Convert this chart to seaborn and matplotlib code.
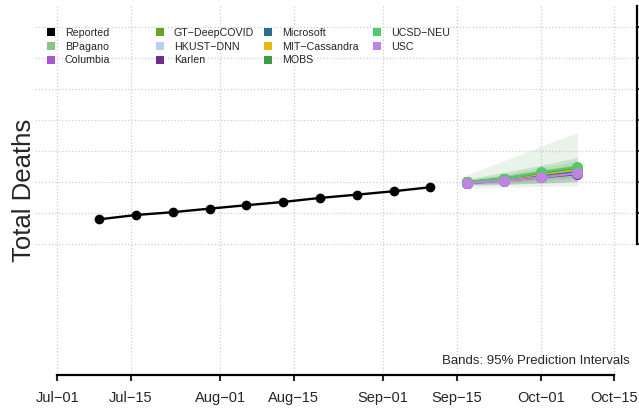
import matplotlib
matplotlib.use("Agg")
import matplotlib.pyplot as plt
import matplotlib.dates as mdates
from matplotlib.lines import Line2D
import numpy as np
import pandas as pd
import seaborn as sns

# ---------------------------------------------------------------------------
# Data
# ---------------------------------------------------------------------------

reported_dates = pd.date_range("2020-07-09", periods=10, freq="7D")
reported_deaths = [9610, 9890, 10070, 10300, 10520, 10730, 10990, 11200, 11420, 11680]

forecast_dates = pd.date_range("2020-09-17", periods=4, freq="7D")

models = ["BPagano", "Columbia", "GT\u2212DeepCOVID", "HKUST\u2212DNN", "Karlen",
          "Microsoft", "MIT\u2212Cassandra", "MOBS", "UCSD\u2212NEU", "USC"]
model_colors = ["#8fbf8a", "#a855d6", "#6aa222", "#b8cff0", "#6a3090",
                "#2a6f8e", "#e8b812", "#3d9a4a", "#55c86a", "#bd85e0"]

point_bpagano = [11990, 12200, 12480, 12760]
point_columbia = [11950, 12150, 12380, 12640]
point_gt = [12000, 12230, 12560, 12880]
point_hkust = [11940, 12120, 12330, 12560]
point_karlen = [11940, 12110, 12310, 12530]
point_microsoft = [11960, 12160, 12400, 12660]
point_mit = [11990, 12210, 12520, 12830]
point_mobs = [12010, 12240, 12600, 12940]
point_ucsd = [12020, 12230, 12650, 12990]
point_usc = [11935, 12100, 12320, 12580]

lower_bpagano = [11630, 11700, 11730, 11760]
upper_bpagano = [12470, 13390, 14310, 15230]
lower_mobs = [11850, 11880, 11950, 12050]
upper_mobs = [12200, 12650, 13100, 13600]
lower_ucsd = [11870, 11950, 12100, 12250]
upper_ucsd = [12150, 12500, 12950, 13350]
lower_gt = [11880, 11980, 12150, 12350]
upper_gt = [12120, 12450, 12800, 13150]
lower_columbia = [11800, 11850, 11950, 12050]
upper_columbia = [12100, 12400, 12750, 13100]

y_ticks = [8000, 10000, 12000, 14000, 16000, 18000, 20000, 22000]

# ---------------------------------------------------------------------------
# Tables for seaborn
# ---------------------------------------------------------------------------

point_series = [point_bpagano, point_columbia, point_gt, point_hkust, point_karlen,
                point_microsoft, point_mit, point_mobs, point_ucsd, point_usc]
fc = pd.DataFrame({
    "date": np.tile(forecast_dates, len(models)),
    "deaths": np.concatenate(point_series),
    "model": np.repeat(models, len(forecast_dates)),
})
rep = pd.DataFrame({"date": reported_dates, "deaths": reported_deaths})
palette = dict(zip(models, model_colors))

bands = [
    ("BPagano", lower_bpagano, upper_bpagano),
    ("Columbia", lower_columbia, upper_columbia),
    ("GT\u2212DeepCOVID", lower_gt, upper_gt),
    ("MOBS", lower_mobs, upper_mobs),
    ("UCSD\u2212NEU", lower_ucsd, upper_ucsd),
]

# ---------------------------------------------------------------------------
# Plot
# ---------------------------------------------------------------------------

sns.set_style("white")
plt.rcParams["font.family"] = ["Liberation Sans", "DejaVu Sans"]

fig = plt.figure(figsize=(6.39, 4.08), dpi=100)
ax = fig.add_axes([35 / 639, 1 - 374.5 / 408, 601.5 / 639, 368.5 / 408])

# prediction bands
for name, lo, hi in bands:
    ax.fill_between(forecast_dates, lo, hi, color=palette[name], alpha=0.18,
                    linewidth=0, zorder=1)

sns.lineplot(data=rep, x="date", y="deaths", color="black", marker="o",
             markersize=7, markeredgewidth=0, linewidth=1.7, ax=ax, zorder=3)
sns.lineplot(data=fc, x="date", y="deaths", hue="model", palette=palette,
             marker="o", markersize=8, markeredgewidth=0, linewidth=1.6,
             legend=False, ax=ax, zorder=3)

# axes limits and ticks
x0 = pd.Timestamp("2020-07-01")
x1 = pd.Timestamp("2020-10-15")
pad = (x1 - x0) * 0.04
ax.set_xlim(x0 - pad, x1 + pad)
ax.set_ylim(-400, 23370)
x_ticks = pd.to_datetime(["2020-07-01", "2020-07-15", "2020-08-01", "2020-08-15",
                          "2020-09-01", "2020-09-15", "2020-10-01", "2020-10-15"])
ax.set_xticks(x_ticks)
ax.xaxis.set_major_formatter(mdates.DateFormatter("%b\u2212%d"))
ax.set_yticks(y_ticks)
ax.yaxis.tick_right()
ax.tick_params(axis="x", direction="out", length=4, width=1.5, labelsize=10.5,
               pad=8, bottom=True)
# the right-hand tick labels fall outside the picture in the reference
ax.tick_params(axis="y", direction="out", length=4, width=1.5,
               right=True, labelright=False)

ax.grid(True, color="#cfcfcf", linestyle=":", linewidth=0.9)
ax.set_axisbelow(True)

for side in ["top", "left"]:
    ax.spines[side].set_visible(False)
ax.spines["bottom"].set_bounds(mdates.date2num(x0), mdates.date2num(x1))
ax.spines["right"].set_bounds(y_ticks[0], 23370)
for side in ["bottom", "right"]:
    ax.spines[side].set_linewidth(1.6)
    ax.spines[side].set_color("black")

ax.set_xlabel("")
ax.set_ylabel("")
fig.text(24.5 / 639, 1 - 190 / 408, "Total Deaths", rotation=90, ha="center",
         va="center", fontsize=18.5)

ax.text((630 - 35) / 601.5, (374.5 - 360.7) / 368.5,
        "Bands: 95% Prediction Intervals", transform=ax.transAxes,
        ha="right", va="center", fontsize=9.5)

# legend, four fixed-width columns
legend_cols = [
    ["Reported", "BPagano", "Columbia"],
    ["GT\u2212DeepCOVID", "HKUST\u2212DNN", "Karlen"],
    ["Microsoft", "MIT\u2212Cassandra", "MOBS"],
    ["UCSD\u2212NEU", "USC"],
]
col_left = [46.7, 155.7, 264.3, 373.3]
all_colors = dict(palette, Reported="black")
for labels, xpx in zip(legend_cols, col_left):
    handles = [Line2D([], [], marker="s", linestyle="", color=all_colors[l],
                      markersize=5.7, markeredgewidth=0) for l in labels]
    fig.legend(handles, labels, loc="upper left",
               bbox_to_anchor=(xpx / 639, 1 - 28.0 / 408),
               frameon=False, borderpad=0, borderaxespad=0, handlelength=0.75,
               handletextpad=0.95, labelspacing=0.34, fontsize=7.7)

fig.savefig("out.png", dpi=100)
plt.close(fig)
